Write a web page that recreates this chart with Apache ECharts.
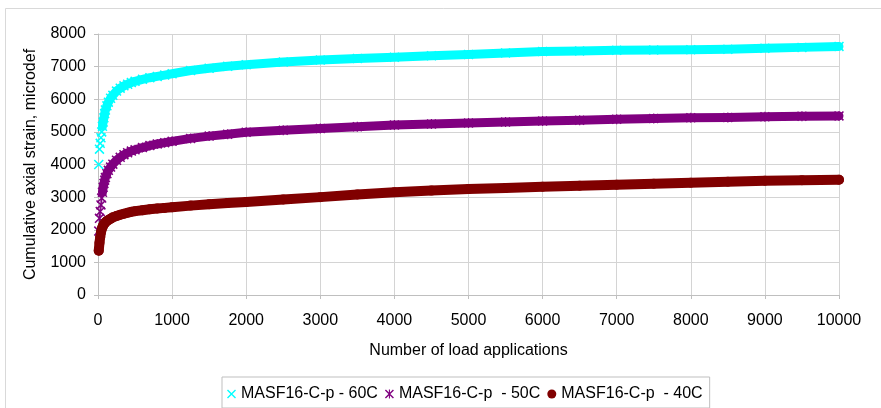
<!DOCTYPE html>
<html>
<head>
<meta charset="utf-8">
<script src="https://cdn.jsdelivr.net/npm/echarts@6/dist/echarts.min.js"></script>
<style>
html,body{margin:0;padding:0;background:#fff;}
#chart{width:881px;height:408px;}
</style>
</head>
<body>
<div id="chart"></div>
<script>
// Number of load applications (shared x positions)
const loads = [10,20,30,40,50,60,70,80,90,100,120,140,170,200,250,300,350,400,450,500,600,700,800,900,1000,1250,1500,1750,2000,2500,3000,3500,4000,4500,5000,5500,6000,6500,7000,7500,8000,8500,9000,9500,10000];
// Cumulative axial strain, microdef
const strain60 = [4000,4470,4650,4820,5000,5170,5300,5430,5560,5670,5800,5910,6030,6120,6250,6340,6410,6460,6510,6550,6610,6660,6700,6740,6780,6880,6950,7010,7060,7140,7200,7250,7290,7330,7370,7420,7460,7480,7500,7510,7520,7530,7560,7590,7620];
const strain50 = [1960,2350,2560,2760,2970,3150,3300,3420,3520,3600,3720,3820,3920,4010,4130,4220,4300,4360,4410,4450,4520,4580,4630,4670,4710,4800,4870,4930,4990,5050,5100,5160,5210,5240,5270,5300,5330,5360,5390,5410,5430,5440,5460,5480,5490];
const strain40 = [1360,1600,1780,1920,2020,2080,2130,2170,2200,2230,2270,2300,2340,2380,2420,2460,2490,2520,2550,2570,2600,2630,2650,2670,2690,2740,2780,2820,2850,2930,3000,3080,3150,3200,3250,3280,3320,3350,3380,3410,3440,3470,3500,3520,3530];
const seriesNames = ['MASF16-C-p - 60C', 'MASF16-C-p  - 50C', 'MASF16-C-p  - 40C'];
const xTicks = {min: 0, max: 10000, interval: 1000};
const yTicks = {min: 0, max: 8000, interval: 1000};

const FONT = 'Liberation Sans, Arial, sans-serif';
const crossPath = 'path://M0,1.1L1.1,0L10,8.9L8.9,10Z M8.9,0L10,1.1L1.1,10L0,8.9Z';
const starPath = 'path://M0,1.1L1.1,0L10,8.9L8.9,10Z M8.9,0L10,1.1L1.1,10L0,8.9Z M4.4,0L5.6,0L5.6,10L4.4,10Z';
const colors = ['#00FFFF', '#800080', '#800000'];
const symbols = [crossPath, starPath, 'circle'];
const values = [strain60, strain50, strain40];
const lineStart = [5, 5, 0];
const bandWidth = [9, 9, 10];
const symSize = [10, 10, 10];

const pairs = v => loads.map((x, i) => [x, v[i]]);

const series = [];
for (let s = 0; s < 3; s++) {
  const d = pairs(values[s]);
  series.push({
    name: seriesNames[s], type: 'line', data: d.slice(lineStart[s]),
    showSymbol: false, symbol: 'none', silent: true,
    lineStyle: {color: colors[s], width: bandWidth[s], cap: 'round', join: 'round'},
    itemStyle: {color: colors[s]}, z: 2, animation: false
  });
  series.push({
    name: seriesNames[s], type: 'scatter', data: d,
    symbol: symbols[s], symbolSize: symSize[s],
    itemStyle: {color: colors[s], opacity: 1}, z: 3, animation: false
  });
}

const plain = v => String(v);

const chart = echarts.init(document.getElementById('chart'), null, {renderer: 'canvas'});
chart.setOption({
  backgroundColor: '#ffffff',
  animation: false,
  graphic: [{
    type: 'rect', shape: {x: 5.5, y: 8.5, width: 900, height: 420},
    style: {fill: 'none', stroke: '#d9d9d9', lineWidth: 1}, silent: true, z: -10
  }],
  grid: {left: 98, right: 42, top: 34, bottom: 113, containLabel: false},
  xAxis: {
    type: 'value', min: xTicks.min, max: xTicks.max, interval: xTicks.interval,
    name: 'Number of load applications', nameLocation: 'middle', nameGap: 48,
    nameTextStyle: {fontSize: 16, fontFamily: FONT, color: '#000'},
    axisLine: {show: true, lineStyle: {color: '#bfbfbf', width: 1}},
    axisTick: {show: true, length: 4, lineStyle: {color: '#bfbfbf'}},
    axisLabel: {fontSize: 16, fontFamily: FONT, color: '#000', margin: 18, formatter: plain},
    splitLine: {show: true, lineStyle: {color: '#d4d4d4', width: 1}}
  },
  yAxis: {
    type: 'value', min: yTicks.min, max: yTicks.max, interval: yTicks.interval,
    name: 'Cumulative axial strain, microdef', nameLocation: 'middle', nameGap: 59,
    nameTextStyle: {fontSize: 16, fontFamily: FONT, color: '#000'},
    axisLine: {show: true, lineStyle: {color: '#bfbfbf', width: 1}},
    axisTick: {show: true, length: 4, lineStyle: {color: '#bfbfbf'}},
    axisLabel: {fontSize: 16, fontFamily: FONT, color: '#000', margin: 12, formatter: plain},
    splitLine: {show: true, lineStyle: {color: '#d4d4d4', width: 1}}
  },
  legend: {
    left: 222, top: 377,
    padding: [9, 7, 6, 5],
    itemWidth: 9, itemHeight: 9, itemGap: 7,
    borderColor: '#bfbfbf', borderWidth: 1, borderRadius: 0,
    textStyle: {fontSize: 16, fontFamily: FONT, color: '#000'},
    data: seriesNames.map((n, i) => ({name: n, icon: symbols[i], itemStyle: {color: colors[i]}}))
  },
  series: series
});
</script>
</body>
</html>
